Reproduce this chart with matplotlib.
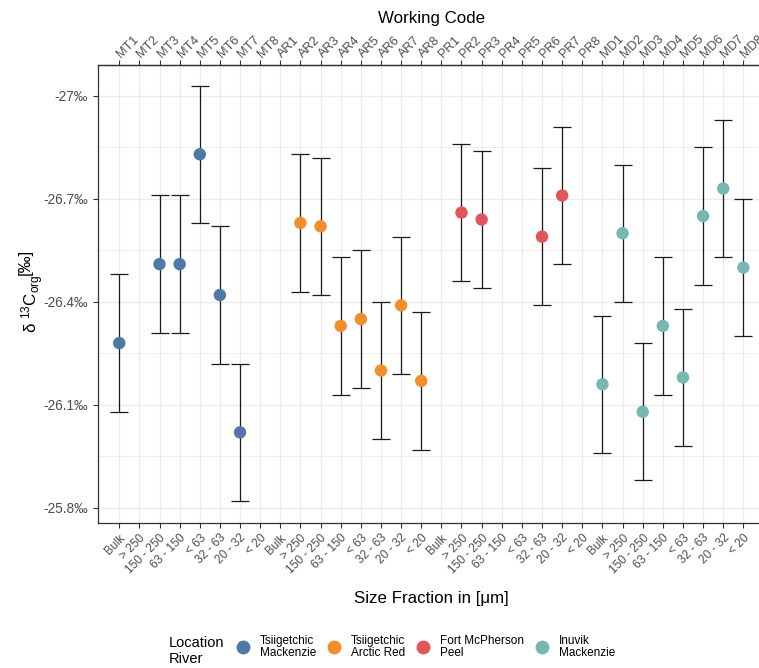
import numpy as np
import matplotlib
matplotlib.use("Agg")
import matplotlib.pyplot as plt
from matplotlib.lines import Line2D
from matplotlib.ticker import FixedLocator

plt.rcParams["font.family"] = ["Liberation Sans", "DejaVu Sans"]
plt.rcParams["mathtext.fontset"] = "custom"
plt.rcParams["mathtext.rm"] = "Liberation Sans"
plt.rcParams["mathtext.it"] = "Liberation Sans:italic"

nan = np.nan

# Sample codes shown on the top axis
codes_mt = ["MT1", "MT2", "MT3", "MT4", "MT5", "MT6", "MT7", "MT8"]
codes_ar = ["AR1", "AR2", "AR3", "AR4", "AR5", "AR6", "AR7", "AR8"]
codes_pr = ["PR1", "PR2", "PR3", "PR4", "PR5", "PR6", "PR7", "PR8"]
codes_md = ["MD1", "MD2", "MD3", "MD4", "MD5", "MD6", "MD7", "MD8"]

# Size fractions shown on the bottom axis (repeated per location)
size_fractions = ["Bulk", "> 250", "150 - 250", "63 - 150", "< 63", "32 - 63", "20 - 32", "< 20"]

# Locations / rivers
locations = ["Tsiigetchic\nMackenzie", "Tsiigetchic\nArctic Red", "Fort McPherson\nPeel", "Inuvik\nMackenzie"]
colors = ["#4E79A7", "#F28E2B", "#E15759", "#76B7B2"]

# delta 13C org values (per mille)
d13c_mt = [-26.28, nan, -26.51, -26.51, -26.83, -26.42, -26.02, nan]
d13c_ar = [nan, -26.63, -26.62, -26.33, -26.35, -26.20, -26.39, -26.17]
d13c_pr = [nan, -26.66, -26.64, nan, nan, -26.59, -26.71, nan]
d13c_md = [-26.16, -26.60, -26.08, -26.33, -26.18, -26.65, -26.73, -26.50]

# measurement uncertainty (per mille)
err_mt = [0.20, nan, 0.20, 0.20, 0.20, 0.20, 0.20, nan]
err_ar = [nan, 0.20, 0.20, 0.20, 0.20, 0.20, 0.20, 0.20]
err_pr = [nan, 0.20, 0.20, nan, nan, 0.20, 0.20, nan]
err_md = [0.20, 0.20, 0.20, 0.20, 0.20, 0.20, 0.20, 0.20]

y_ticks = [-27.0, -26.7, -26.4, -26.1, -25.8]
y_tick_labels = ["-27‰", "-26.7‰", "-26.4‰", "-26.1‰", "-25.8‰"]

groups = [
    (d13c_mt, err_mt),
    (d13c_ar, err_ar),
    (d13c_pr, err_pr),
    (d13c_md, err_md),
]
all_codes = codes_mt + codes_ar + codes_pr + codes_md
all_fractions = size_fractions * 4
x_all = np.arange(len(all_codes))

W, H, DPI = 759, 668, 100
fig = plt.figure(figsize=(W / DPI, H / DPI), dpi=DPI)
ax = fig.add_axes([98.3 / W, 1 - 523 / H, 666 / W, (523 - 65) / H])

grid_col = "#EBEBEB"
ax.set_axisbelow(True)

for g, (vals, errs) in enumerate(groups):
    x = np.arange(8) + 8 * g
    v = np.array(vals, dtype=float)
    e = np.array(errs, dtype=float)
    ok = ~np.isnan(v)
    ax.errorbar(x[ok], v[ok], yerr=e[ok], fmt="none", ecolor="#1a1a1a",
                elinewidth=0.9, capsize=6.5, capthick=0.9, zorder=2)
    ax.scatter(x[ok], v[ok], s=80, color=colors[g], edgecolors="none", zorder=3)

ax.set_xlim(-1.04, 32.04)
ax.set_ylim(-25.756, -27.090)

ax.set_yticks(y_ticks)
ax.set_yticklabels(y_tick_labels)
ax.yaxis.set_minor_locator(FixedLocator([-26.85, -26.55, -26.25, -25.95]))
ax.tick_params(axis="y", which="minor", length=0)

ax.set_xticks(x_all)
ax.set_xticklabels(all_fractions, rotation=45, ha="right", va="top",
                   rotation_mode="anchor")
ax.grid(True, which="major", color=grid_col, linewidth=1.0)
ax.grid(True, which="minor", axis="y", color=grid_col, linewidth=0.6)

tick_col = "#4D4D4D"
ax.tick_params(axis="both", which="major", length=3.5, width=0.8, color="#333333",
               labelcolor=tick_col)
ax.tick_params(axis="y", labelsize=9.8, pad=4)
ax.tick_params(axis="x", labelsize=8.6, pad=3)

for sp in ax.spines.values():
    sp.set_color("#333333")
    sp.set_linewidth(0.9)

sec = ax.secondary_xaxis("top")
sec.set_xticks(x_all)
sec.set_xticklabels(all_codes, rotation=45, ha="left", va="center",
                    rotation_mode="anchor")
sec.tick_params(axis="x", length=3.5, width=0.8, color="#333333",
                labelcolor=tick_col, labelsize=9.2, pad=3)
sec.spines["top"].set_color("#333333")
sec.spines["top"].set_linewidth(0.9)
sec.set_xlabel("Working Code", fontsize=12.2, labelpad=7)

ax.set_xlabel("Size Fraction in [μm]", fontsize=12.2, labelpad=11)
ax.set_ylabel(r"δ $^{13}$C$_{\mathrm{org}}$", fontsize=12.2, labelpad=-2)
ax.yaxis.label.set_y(0.478)
# unit in brackets, raised slightly above the label baseline
ax.annotate("[‰]", xy=(1, 1), xycoords=ax.yaxis.label,
            xytext=(-15, 0), textcoords="offset points",
            rotation=90, ha="center", va="bottom", fontsize=12.2)

handles = [Line2D([], [], linestyle="none", marker="o", markersize=10,
                  markerfacecolor=c, markeredgecolor="none") for c in colors]
leg = fig.legend(handles, locations, ncol=4, loc="center left",
                 bbox_to_anchor=(235.9 / W, 1 - 647 / H), frameon=False,
                 fontsize=8.5, handlelength=1.2, handletextpad=0.84,
                 columnspacing=0.92, borderpad=0, borderaxespad=0)
for t in leg.get_texts():
    t.set_linespacing(1.05)
fig.text(169 / W, 1 - 651 / H, "Location\nRiver", fontsize=10.5, va="center",
         ha="left", linespacing=1.2)

fig.savefig("out.png", dpi=DPI)
